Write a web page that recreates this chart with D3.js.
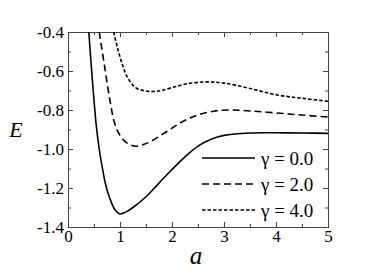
<!DOCTYPE html>
<html>
<head>
<meta charset="utf-8">
<script src="https://cdn.jsdelivr.net/npm/d3@7"></script>
<style>
  body { margin: 0; background: #fff; }
  svg text { font-family: 'Liberation Serif', 'Times New Roman', 'DejaVu Serif', serif; }
  .axis text { font-size: 17px; fill: #000; }
  .axis path, .axis line { stroke: #444; }
  .curve { fill: none; stroke: #000; stroke-width: 1.6px; }
</style>
</head>
<body>
<div class="chart"></div>
<script>
// values
var xTicks = [0, 1, 2, 3, 4, 5];
var yTicks = [-1.4, -1.2, -1.0, -0.8, -0.6, -0.4];
var gammaLabels = ["γ = 0.0", "γ = 2.0", "γ = 4.0"];

var g0 = [
    [0.40, -0.40], [0.47, -0.65], [0.54, -0.87], [0.60, -1.00], [0.67, -1.11],
    [0.73, -1.19], [0.80, -1.25], [0.90, -1.31], [1.00, -1.333], [1.10, -1.325],
    [1.25, -1.30], [1.50, -1.245], [1.75, -1.175], [2.00, -1.105], [2.25, -1.04],
    [2.50, -0.985], [2.75, -0.95], [3.00, -0.93], [3.50, -0.918], [4.00, -0.917],
    [4.50, -0.918], [5.00, -0.92]
];
var g2 = [
    [0.60, -0.40], [0.70, -0.57], [0.80, -0.74], [0.90, -0.87], [1.00, -0.93],
    [1.10, -0.962], [1.27, -0.985], [1.45, -0.977], [1.60, -0.96], [1.90, -0.91],
    [2.20, -0.86], [2.50, -0.825], [2.80, -0.806], [3.10, -0.80], [3.50, -0.805],
    [4.00, -0.815], [4.50, -0.826], [5.00, -0.836]
];
var g4 = [
    [0.88, -0.40], [0.95, -0.48], [1.05, -0.57], [1.15, -0.636], [1.30, -0.685],
    [1.45, -0.70], [1.63, -0.705], [1.80, -0.70], [2.00, -0.685], [2.30, -0.665],
    [2.67, -0.656], [3.00, -0.662], [3.50, -0.69], [4.00, -0.722], [4.50, -0.74],
    [5.00, -0.755]
];
var series = [g0, g2, g4];
var dashes = [null, "7,4", "3.5,2"];

var serif = "'Liberation Serif', 'Times New Roman', 'DejaVu Serif', serif";

var svgWidth = 382, svgHeight = 273,
    margin = {top: 32, right: 54, bottom: 46, left: 68},
    width = svgWidth - margin.left - margin.right,
    height = svgHeight - margin.top - margin.bottom;

var svg = d3.select(".chart").append("svg")
    .attr("width", svgWidth)
    .attr("height", svgHeight);

var plot = svg.append("g")
    .attr("transform", "translate(" + margin.left + "," + margin.top + ")");

var x = d3.scaleLinear().domain([0, 5]).range([0, width]);
var y = d3.scaleLinear().domain([-1.4, -0.4]).range([height, 0]);

// plain hyphen for negatives, like the original
var fmt = d3.formatLocale({decimal: ".", thousands: ",", grouping: [3], currency: ["", ""], minus: "-"}).format(".1f");

// minor ticks first, then major on top
plot.append("g").attr("class", "axis")
    .attr("transform", "translate(0," + height + ")")
    .call(d3.axisBottom(x).tickValues(d3.range(0.5, 5, 1)).tickFormat("").tickSize(-3));
plot.append("g").attr("class", "axis")
    .call(d3.axisTop(x).tickValues(d3.range(0.5, 5, 1)).tickFormat("").tickSize(-3));
plot.append("g").attr("class", "axis")
    .call(d3.axisLeft(y).tickValues(d3.range(-1.3, -0.4, 0.2)).tickFormat("").tickSize(-3));
plot.append("g").attr("class", "axis")
    .attr("transform", "translate(" + width + ",0)")
    .call(d3.axisRight(y).tickValues(d3.range(-1.3, -0.4, 0.2)).tickFormat("").tickSize(-3));

plot.append("g").attr("class", "axis")
    .attr("transform", "translate(0," + height + ")")
    .call(d3.axisBottom(x).tickValues(xTicks).tickFormat(d3.format("d")).tickSize(-5).tickPadding(3));
plot.append("g").attr("class", "axis")
    .call(d3.axisTop(x).tickValues(xTicks).tickFormat("").tickSize(-5));
plot.append("g").attr("class", "axis")
    .call(d3.axisLeft(y).tickValues(yTicks).tickFormat(fmt).tickSize(-5).tickPadding(4));
plot.append("g").attr("class", "axis")
    .attr("transform", "translate(" + width + ",0)")
    .call(d3.axisRight(y).tickValues(yTicks).tickFormat("").tickSize(-5));

plot.selectAll(".axis").attr("font-family", serif);
plot.selectAll(".axis text").attr("font-family", serif);

svg.append("defs").append("clipPath").attr("id", "clip")
    .append("rect").attr("width", width).attr("height", height);

var line = d3.line()
    .curve(d3.curveCatmullRom)
    .x(function(d) { return x(d[0]); })
    .y(function(d) { return y(d[1]); });

plot.append("g").attr("clip-path", "url(#clip)")
    .selectAll("path").data(series).enter().append("path")
    .attr("class", "curve")
    .attr("stroke-dasharray", function(d, i) { return dashes[i]; })
    .attr("d", line);

// legend
var legend = plot.append("g").attr("transform", "translate(134,126)");
gammaLabels.forEach(function(t, i) {
    var row = legend.append("g").attr("transform", "translate(0," + (i * 26) + ")");
    row.append("line").attr("class", "curve")
        .attr("x1", 0).attr("x2", 53).attr("y1", 0).attr("y2", 0)
        .attr("stroke-dasharray", dashes[i]);
    row.append("text")
        .attr("x", 59).attr("y", 7)
        .attr("font-family", serif)
        .style("font-size", "19px")
        .text(t);
});

// axis titles
svg.append("text")
    .attr("x", 196).attr("y", 264)
    .attr("text-anchor", "middle")
    .attr("font-family", serif)
    .style("font-style", "italic")
    .style("font-size", "25px")
    .text("a");
svg.append("text")
    .attr("x", 16).attr("y", 137)
    .attr("text-anchor", "middle")
    .attr("font-family", serif)
    .style("font-style", "italic")
    .style("font-size", "22px")
    .text("E");
</script>
</body>
</html>
